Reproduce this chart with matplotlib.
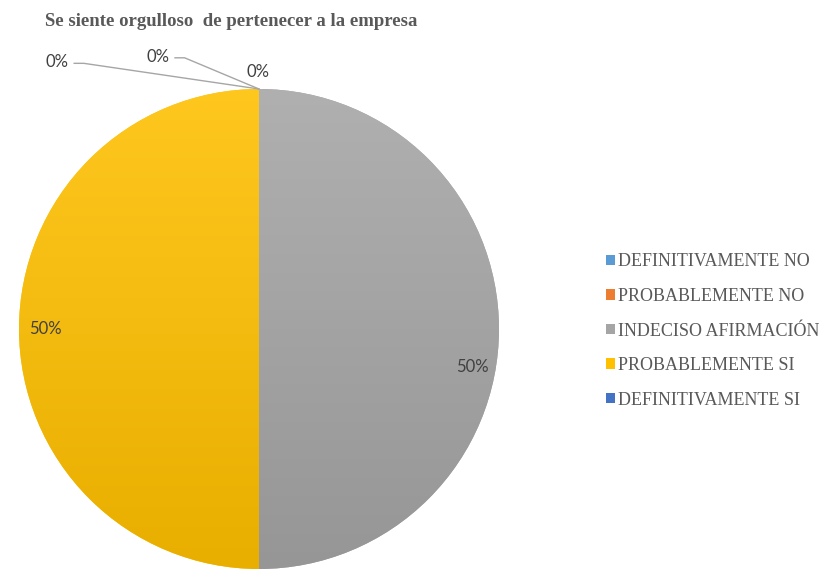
import numpy as np
import matplotlib.pyplot as plt
import matplotlib.colors as mcolors
from matplotlib.patches import Patch

categories = ['DEFINITIVAMENTE NO', 'PROBABLEMENTE NO', 'INDECISO AFIRMACIÓN',
              'PROBABLEMENTE SI', 'DEFINITIVAMENTE SI']
values = [0, 0, 50, 50, 0]
colors = ['#5B9BD5', '#ED7D31', '#A5A5A5', '#FFC000', '#4472C4']
title = 'Se siente orgulloso  de pertenecer a la empresa'

W, H = 834, 575
fig = plt.figure(figsize=(W / 100, H / 100), dpi=100)

# pie axes: center (259, 329) px, radius 240 px
cx, cy, r = 259, 329, 240
ax = fig.add_axes([(cx - r) / W, (H - cy - r) / H, 2 * r / W, 2 * r / H])

wedges, _ = ax.pie(values, colors=colors, startangle=90, counterclock=False,
                   radius=1, wedgeprops=dict(linewidth=0))
ax.set_xlim(-1, 1)
ax.set_ylim(-1, 1)
ax.set_aspect('equal')
ax.axis('off')

# vertical gradient fill (lighter top, darker bottom), clipped to each wedge
t = np.linspace(0, 1, 256)[:, None]
for w, c, v in zip(wedges, colors, values):
    if v == 0:
        continue
    base = np.array(mcolors.to_rgb(c))
    top = base + 0.12 * (1 - base)
    bot = base * 0.91
    img = top * (1 - t[..., None]) + bot * t[..., None]
    img = np.repeat(img, 2, axis=1)
    im = ax.imshow(img, extent=(-1, 1, -1, 1), origin='upper', zorder=w.get_zorder() + 0.1,
                   interpolation='bilinear')
    im.set_clip_path(w)

lab_font = dict(family='Lato', fontsize=12, color='#404040')
total = sum(values)

# label positions for the zero slices (data units of the pie axes)
zero_pos = [(-0.84, 1.112), (-0.42, 1.135), (-0.005, 1.07)]
zi = 0
for w, v in zip(wedges, values):
    pct = '{:.0f}%'.format(100 * v / total)
    mid = np.deg2rad((w.theta1 + w.theta2) / 2)
    if v == 0:
        tx, ty = zero_pos[zi]
        ax.text(tx, ty, pct, ha='center', va='center', clip_on=False, zorder=5, **lab_font)
        if zi < 2:
            ax.plot([tx + 0.07, tx + 0.11, 0], [ty - 0.005, ty - 0.005, 1.0],
                    color='#A6A6A6', lw=1, clip_on=False, zorder=4)
        zi += 1
    else:
        rr = 0.89
        tx, ty = rr * np.cos(mid), rr * np.sin(mid)
        if np.cos(mid) > 0:
            ty -= 0.16
        ax.text(tx, ty, pct, ha='center', va='center', zorder=5, **lab_font)

fig.text(45 / W, 1 - 22 / H, title, family='Liberation Serif', weight='bold',
         fontsize=13.5, color='#595959', ha='left', va='center')

handles = [Patch(facecolor=c, edgecolor='none') for c in colors]
leg = fig.legend(handles, categories, loc='center left',
                 bbox_to_anchor=(590 / W, 1 - 331 / H), frameon=False,
                 prop=dict(family='Liberation Serif', size=13),
                 handlelength=0.5, handleheight=0.5, handletextpad=0.15,
                 labelspacing=0.97)
for tx in leg.get_texts():
    tx.set_color('#595959')

fig.savefig('out.png', dpi=100)
